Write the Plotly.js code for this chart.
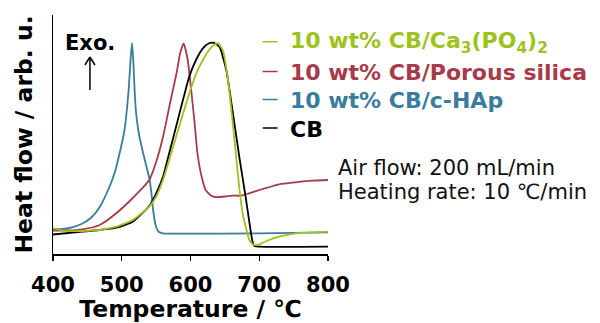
<!DOCTYPE html>
<html>
<head>
<meta charset="utf-8">
<script src="https://cdn.plot.ly/plotly-3.0.1.min.js"></script>
<style>html,body{margin:0;padding:0;background:#fff;}#chart{width:600px;height:323px;}</style>
</head>
<body>
<div id="chart"></div>
<script>
// ---- data ----
var seriesNames = ['10 wt% CB/Ca<sub>3</sub>(PO<sub>4</sub>)<sub>2</sub>', '10 wt% CB/Porous silica', '10 wt% CB/c-HAp', 'CB'];
var seriesColors = ['#9DC21E', '#A83B4B', '#3A7C9E', '#000000'];

var tempCa = [400, 419, 443, 468, 492, 516, 540, 550, 560, 569, 579, 589, 598, 608, 618, 627, 634, 640, 647, 654, 661, 666, 671, 676, 680, 685, 690, 695, 700, 714, 729, 753, 777, 800];
var heatCa = [25.7, 23, 23, 24, 27.3, 34, 47.3, 57.3, 74, 94, 117, 140, 160, 180, 194, 204, 209, 210.7, 204, 177, 134, 100, 66, 40, 28, 15, 10, 8.8, 9.7, 14, 17.3, 20.7, 21.7, 22.3];

var tempSilica = [400, 420, 443, 468, 492, 516, 540, 550, 560, 570, 580, 585, 590, 596, 601, 606, 610, 615, 622, 630, 637, 650, 661, 673, 685, 705, 729, 753, 777, 800];
var heatSilica = [23.3, 23.5, 24.7, 29, 40.7, 56, 74, 92, 117, 150, 182, 201, 210.7, 194, 164, 131, 101, 81, 64, 58.3, 57, 57.5, 58.3, 58.3, 60.7, 65, 69.7, 71.7, 73.3, 74];

var tempHAp = [400, 420, 440, 455, 468, 482, 490, 497, 504, 510, 513, 515, 517, 519, 521, 525, 530, 535, 540, 543, 546, 550, 554, 560, 600, 700, 800];
var heatHAp = [24.5, 25.5, 29.5, 36, 47, 67, 82, 101, 124, 164, 196, 211, 190, 160, 140, 120, 104, 90, 76, 62, 42, 27, 22, 20.7, 20.3, 20.7, 21.7];

var tempCB = [400, 443, 468, 492, 516, 540, 550, 560, 569, 579, 589, 598, 608, 618, 627, 633, 642, 652, 661, 671, 680, 686, 690, 693, 700, 800];
var heatCB = [19.5, 22.3, 24, 26.3, 32.3, 48, 60.7, 77.3, 100.7, 127.3, 154, 177, 194, 205.7, 210.7, 211.3, 207.3, 184, 144, 97, 58, 30, 13, 8, 7.3, 7.3];

var xTicks = [400, 500, 600, 700, 800];
var xTitle = 'Temperature / ℃';
var yTitle = 'Heat flow / arb. u.';
var noteLines = ['Air flow: 200 mL/min', 'Heating rate: 10 ℃/min'];
var exoLabel = 'Exo.';

// ---- build ----
var temps = [tempCa, tempSilica, tempHAp, tempCB];
var heats = [heatCa, heatSilica, heatHAp, heatCB];
var drawOrder = [2, 1, 3, 0];
var traces = drawOrder.map(function (i) {
  return {
    x: temps[i], y: heats[i], type: 'scatter', mode: 'lines',
    name: seriesNames[i],
    line: {color: seriesColors[i], width: 1.8, shape: 'spline', smoothing: 0.5},
    showlegend: false, hoverinfo: 'skip'
  };
});

var FONT = 'DejaVu Sans, Verdana, sans-serif';
var L = 53, R = 328.5, T = 15, B = 254;
function px(x) { return (x - L) / (R - L); }
function py(y) { return (B - y) / (B - T); }

var annotations = [];
var shapes = [];
var rowY = [41.7, 71.5, 99.5, 128];
seriesNames.forEach(function (n, i) {
  annotations.push({
    xref: 'paper', yref: 'paper', x: px(288), y: py(rowY[i] + 1), xanchor: 'left', yanchor: 'middle',
    text: '<b>' + n + '</b>', showarrow: false,
    font: {family: FONT, size: 22, color: seriesColors[i]}
  });
  shapes.push({
    type: 'line', xref: 'paper', yref: 'paper',
    x0: px(263), x1: px(278), y0: py(rowY[i]), y1: py(rowY[i]),
    line: {color: seriesColors[i], width: 1.5}
  });
});
var noteY = [167, 190.5];
noteLines.forEach(function (t, i) {
  annotations.push({
    xref: 'paper', yref: 'paper', x: px(337), y: py(noteY[i] + 1), xanchor: 'left', yanchor: 'middle',
    text: t, showarrow: false, font: {family: FONT, size: 21, color: '#111'}
  });
});
annotations.push({
  xref: 'paper', yref: 'paper', x: px(90), y: py(43.5), xanchor: 'center', yanchor: 'middle',
  text: '<b>' + exoLabel + '</b>', showarrow: false, font: {family: FONT, size: 21, color: '#000'}
});
// up arrow
shapes.push({type: 'line', xref: 'paper', yref: 'paper', x0: px(90), x1: px(90), y0: py(90), y1: py(57.5), line: {color: '#000', width: 1.5}});
shapes.push({type: 'line', xref: 'paper', yref: 'paper', x0: px(85), x1: px(90), y0: py(65), y1: py(57), line: {color: '#000', width: 1.5}});
shapes.push({type: 'line', xref: 'paper', yref: 'paper', x0: px(95), x1: px(90), y0: py(65), y1: py(57), line: {color: '#000', width: 1.5}});

var layout = {
  width: 600, height: 323,
  margin: {l: L, r: 600 - R, t: T, b: 323 - B},
  paper_bgcolor: '#fff', plot_bgcolor: '#fff',
  font: {family: FONT, color: '#000'},
  xaxis: {
    range: [400, 800], tickvals: xTicks, ticktext: xTicks.map(function (v) { return '<b>' + v + '</b>'; }),
    ticks: 'outside', ticklen: 5, tickwidth: 1.3, tickcolor: '#000',
    showline: true, linecolor: '#000', linewidth: 1.5, showgrid: false, zeroline: false,
    tickfont: {family: FONT, size: 21, color: '#000'}, ticklabelstandoff: 6,
    title: {text: '<b>' + xTitle + '</b>', font: {family: FONT, size: 23.5, color: '#000'}, standoff: 11}
  },
  yaxis: {
    range: [0, 239], showticklabels: false, ticks: '', showline: true, linecolor: '#000', linewidth: 1.5,
    showgrid: false, zeroline: false,
    title: {text: '<b>' + yTitle + '</b>', font: {family: FONT, size: 23.5, color: '#000'}, standoff: 12}
  },
  annotations: annotations,
  shapes: shapes
};

Plotly.newPlot('chart', traces, layout, {displayModeBar: false, staticPlot: true});
</script>
</body>
</html>
